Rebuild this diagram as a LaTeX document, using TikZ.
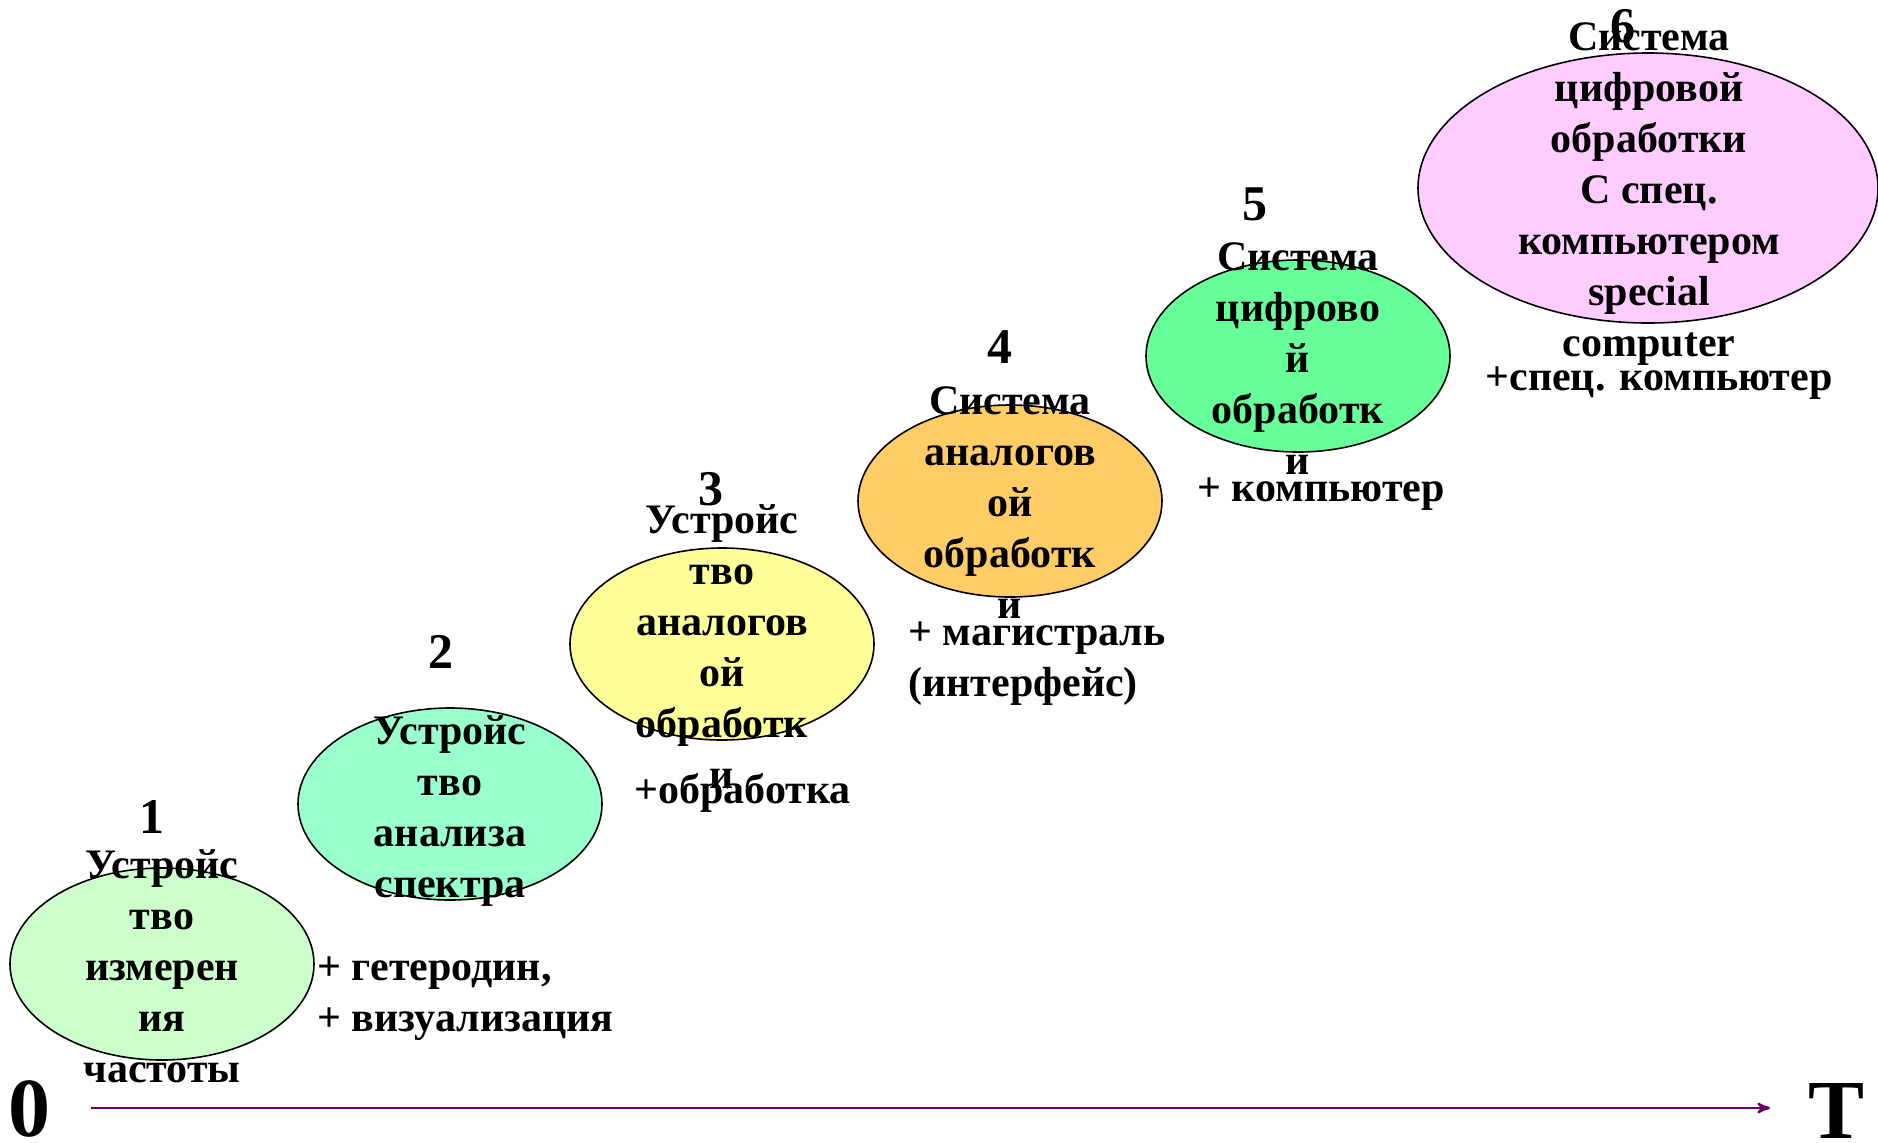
\documentclass[tikz,border=0pt]{standalone}
\usepackage{fontspec}
\setmainfont{Liberation Serif}
\usepackage{tikz}
\definecolor{colaxis}{RGB}{102,0,102}
\definecolor{colone}{RGB}{204,255,204}
\definecolor{coltwo}{RGB}{153,255,204}
\definecolor{colthree}{RGB}{255,255,153}
\definecolor{colfour}{RGB}{255,204,102}
\definecolor{colfive}{RGB}{102,255,153}
\definecolor{colsix}{RGB}{255,204,255}
\usetikzlibrary{
	arrows,
	shapes.geometric,
	positioning
}
\tikzset{
	>=stealth',
	axis/.style={->, line width=1.2pt, colaxis},
	stagenode/.style={ellipse, draw, line width=0.8pt, inner sep=0pt, minimum width=152pt, minimum height=96pt},
	stagetext/.style={align=center, inner sep=0pt, font=\fontsize{21}{25.5}\selectfont\bfseries},
	numnode/.style={inner sep=0pt, font=\fontsize{25}{28}\selectfont\bfseries},
	notetext/.style={align=left, anchor=west, inner sep=0pt, font=\fontsize{21}{25.5}\selectfont\bfseries},
	axislabel/.style={inner sep=0pt, font=\fontsize{42}{46}\selectfont\bfseries}
}

\begin{document}
\begin{tikzpicture}[x=0.5pt, y=-0.5pt]
	\useasboundingbox (0,0) rectangle (1878,1142);
	% stages
	\foreach \n/\x/\y/\col in {1/162/964/colone, 2/450/804/coltwo, 3/722/644/colthree, 4/1010/501/colfour, 5/1298/356/colfive} {
		\node[stagenode, fill=\col] (stage\n) at (\x,\y) {};
	}
	\node[stagenode, fill=colsix, minimum width=230pt, minimum height=135pt] (stage6) at (1648,188) {};
	\foreach \n/\x/\y in {1/152/817, 2/441/652, 3/711/489, 4/1000/347, 5/1255/204, 6/1623/26} {
		\node[numnode] (num\n) at (\x,\y) {\n};
	}
	\node[stagetext] (stagetext1) at (162,966) {Устройс\\тво\\измерен\\ия\\частоты};
	\node[stagetext] (stagetext2) at (450,811) {Устройс\\тво\\анализа\\спектра};
	\node[stagetext] (stagetext3) at (722,647) {Устройс\\тво\\аналогов\\ой\\обработк\\и};
	\node[stagetext] (stagetext4) at (1010,503) {Система\\аналогов\\ой\\обработк\\и};
	\node[stagetext] (stagetext5) at (1298,359) {Система\\цифрово\\й\\обработк\\и};
	\node[stagetext] (stagetext6) at (1649,194) {Система\\цифровой\\обработки\\С спец.\\компьютером\\special\\computer};
	% additions
	\node[notetext] (note1) at (317,999) {+ гетеродин,\\+ визуализация};
	\node[notetext] (note2) at (634,793) {+обработка};
	\node[notetext] (note3) at (908,664) {+ магистраль\\(интерфейс)};
	\node[notetext] (note4) at (1197,494) {+ компьютер};
	\node[notetext] (note5) at (1485,383) {+спец. компьютер};
	% time axis
	\node[axislabel] (zero) at (30,1109) {0};
	\node[axislabel] (tee) at (1836,1111) {T};
	\coordinate (axisstart) at (91,1108);
	\coordinate (axisend) at (1770,1108);
	\draw[axis] (axisstart) -- (axisend);
\end{tikzpicture}
\end{document}
